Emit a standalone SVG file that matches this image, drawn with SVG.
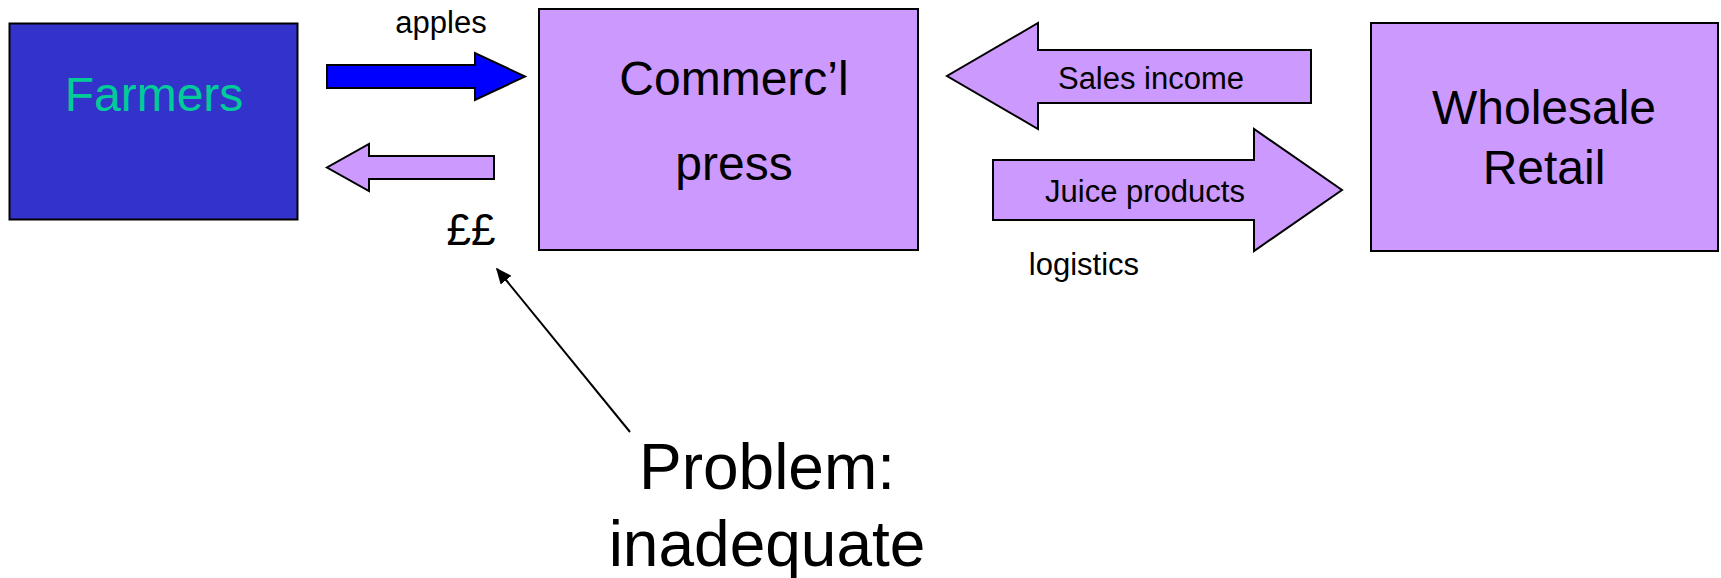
<svg xmlns="http://www.w3.org/2000/svg" width="1721" height="578" viewBox="0 0 1721 578">
<style>
.box{stroke:#000;stroke-width:2}
.purple{fill:#CC99FF}
.blk{stroke:#000;stroke-width:2;stroke-linejoin:miter}
text{font-family:"Liberation Sans",Arial,sans-serif;fill:#000}
.big{font-size:48px;text-anchor:middle}
.lbl{font-size:31px;text-anchor:middle}
.prob{font-size:64px;text-anchor:middle}
</style>
<defs>
<marker id="ah" viewBox="0 0 10 10" refX="9" refY="5" markerWidth="8" markerHeight="7" markerUnits="strokeWidth" orient="auto" preserveAspectRatio="none">
<path d="M0,0 L10,5 L0,10 Z" fill="#000"/>
</marker>
</defs>
<rect width="1721" height="578" fill="#fff"/>
<g id="farmers">
<rect class="box" x="9.5" y="23.5" width="288" height="196" fill="#3333CC"/>
<text class="big" x="154" y="111" style="fill:#00CC99" font-size="47">Farmers</text>
</g>
<g id="press">
<rect class="box purple" x="539" y="9" width="379" height="241"/>
<text class="big" x="734" y="95">Commerc’l</text>
<text class="big" x="734" y="180">press</text>
</g>
<g id="wholesale">
<rect class="box purple" x="1371" y="23" width="347" height="228"/>
<text class="big" x="1544" y="124">Wholesale</text>
<text class="big" x="1544" y="184">Retail</text>
</g>
<g id="problem">
<text class="prob" x="767" y="489">Problem:</text>
<text class="prob" x="767" y="566">inadequate</text>
</g>
<g id="connectors">
<polygon class="blk" fill="#0000FF" points="327,65 475,65 475,53 525,76.5 475,100 475,88 327,88"/>
<polygon class="blk purple" points="494,156 369,156 369,144 327,167.5 369,191 369,179 494,179"/>
<polygon class="blk purple" points="1311,50 1038,50 1038,23 947,76 1038,129 1038,103 1311,103"/>
<polygon class="blk purple" points="993,160 1254,160 1254,129 1342,190 1254,251 1254,220 993,220"/>
<line x1="630" y1="432" x2="497" y2="269" stroke="#000" stroke-width="2" marker-end="url(#ah)"/>
</g>
<g id="labels">
<text class="lbl" x="441" y="33">apples</text>
<text x="471" y="245" font-size="44" text-anchor="middle">££</text>
<text class="lbl" x="1151" y="89">Sales income</text>
<text class="lbl" x="1145" y="202">Juice products</text>
<text class="lbl" x="1084" y="275">logistics</text>
</g>
</svg>
